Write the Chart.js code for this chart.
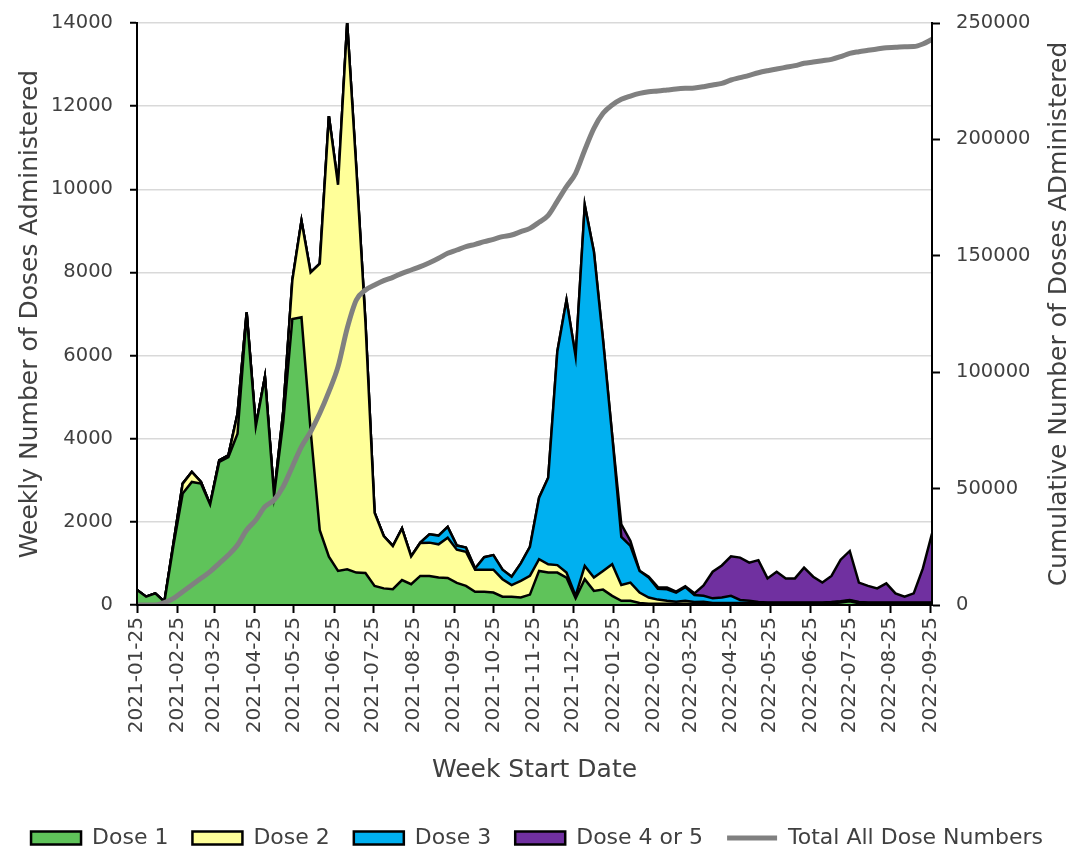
<!DOCTYPE html>
<html>
<head>
<meta charset="utf-8">
<title>Weekly Doses Administered</title>
<script src="https://cdn.jsdelivr.net/npm/chart.js@4.4.1/dist/chart.umd.min.js"></script>
<style>
    html, body { margin: 0; padding: 0; background: #fff; }
    #wrap { width: 1074px; height: 849px; position: relative; }
</style>
</head>
<body>
<div id="wrap"><canvas id="dosesChart"></canvas></div>
<script>
// Week start dates (x categories)
const weekStart = [
    '2021-01-25',
    '2021-02-01', '2021-02-08', '2021-02-15', '2021-02-22',
    '2021-03-01', '2021-03-08', '2021-03-15', '2021-03-22', '2021-03-29',
    '2021-04-05', '2021-04-12', '2021-04-19', '2021-04-26',
    '2021-05-03', '2021-05-10', '2021-05-17', '2021-05-24', '2021-05-31',
    '2021-06-07', '2021-06-14', '2021-06-21', '2021-06-28',
    '2021-07-05', '2021-07-12', '2021-07-19', '2021-07-26',
    '2021-08-02', '2021-08-09', '2021-08-16', '2021-08-23', '2021-08-30',
    '2021-09-06', '2021-09-13', '2021-09-20', '2021-09-27',
    '2021-10-04', '2021-10-11', '2021-10-18', '2021-10-25',
    '2021-11-01', '2021-11-08', '2021-11-15', '2021-11-22', '2021-11-29',
    '2021-12-06', '2021-12-13', '2021-12-20', '2021-12-27',
    '2022-01-03', '2022-01-10', '2022-01-17', '2022-01-24', '2022-01-31',
    '2022-02-07', '2022-02-14', '2022-02-21', '2022-02-28',
    '2022-03-07', '2022-03-14', '2022-03-21', '2022-03-28',
    '2022-04-04', '2022-04-11', '2022-04-18', '2022-04-25',
    '2022-05-02', '2022-05-09', '2022-05-16', '2022-05-23', '2022-05-30',
    '2022-06-06', '2022-06-13', '2022-06-20', '2022-06-27',
    '2022-07-04', '2022-07-11', '2022-07-18', '2022-07-25',
    '2022-08-01', '2022-08-08', '2022-08-15', '2022-08-22', '2022-08-29',
    '2022-09-05', '2022-09-12', '2022-09-19', '2022-09-26'
];

// Monthly tick labels on the date axis
const tickLabels = [
    '2021-01-25', '2021-02-25', '2021-03-25', '2021-04-25', '2021-05-25',
    '2021-06-25', '2021-07-25', '2021-08-25', '2021-09-25', '2021-10-25',
    '2021-11-25', '2021-12-25', '2022-01-25', '2022-02-25', '2022-03-25',
    '2022-04-25', '2022-05-25', '2022-06-25', '2022-07-25', '2022-08-25',
    '2022-09-25'
];

const dose1 = [
    360, 200, 280, 80, 1450, 2680, 2960, 2920, 2420, 3440,
    3560, 4120, 7000, 4300, 5480, 2640, 4400, 6880, 6920, 4200,
    1800, 1160, 820, 860, 780, 770, 460, 400, 380, 600,
    500, 700, 700, 660, 650, 530, 460, 320, 320, 300,
    200, 200, 180, 250, 820, 780, 780, 660, 160, 620,
    340, 370, 220, 100, 100, 50, 30, 30, 30, 30,
    30, 30, 30, 30, 30, 30, 30, 30, 30, 30,
    30, 30, 30, 30, 30, 30, 40, 60, 90, 40,
    30, 30, 30, 30, 30, 30, 30, 30
];

const dose2 = [
    0, 0, 0, 0, 50, 240, 240, 40, 0, 40,
    40, 480, 40, 0, 0, 0, 250, 930, 2320, 3800,
    6410, 10600, 9290, 13140, 9720, 6030, 1760, 1260, 1040, 1240,
    670, 790, 800, 800, 970, 800, 820, 530, 530, 550,
    420, 280, 400, 450, 280, 200, 180, 120, 60, 320,
    320, 450, 760, 380, 440, 250, 150, 100, 70, 50,
    70, 40, 50, 20, 20, 20, 20, 20, 20, 20,
    20, 20, 20, 20, 20, 20, 20, 20, 20, 20,
    20, 20, 20, 20, 20, 20, 20, 20
];

const dose3 = [
    0, 0, 0, 0, 0, 0, 0, 0, 0, 0,
    0, 0, 0, 0, 0, 0, 0, 0, 0, 0,
    0, 0, 0, 0, 0, 0, 0, 0, 0, 0,
    0, 10, 200, 210, 260, 100, 100, 30, 300, 350,
    230, 200, 420, 700, 1480, 2080, 5140, 6560, 5760, 8680,
    7840, 5550, 3100, 1160, 880, 520, 480, 260, 280, 220,
    330, 170, 140, 110, 130, 170, 70, 50, 20, 10,
    10, 10, 10, 10, 10, 10, 10, 10, 10, 10,
    10, 10, 10, 10, 10, 10, 10, 10
];

const dose4 = [
    0, 0, 0, 0, 0, 0, 0, 0, 0, 0,
    0, 0, 0, 0, 0, 0, 0, 0, 0, 0,
    0, 0, 0, 0, 0, 0, 0, 0, 0, 0,
    0, 0, 0, 0, 0, 0, 0, 0, 0, 0,
    0, 0, 0, 0, 0, 0, 0, 0, 0, 0,
    0, 0, 0, 300, 120, 0, 20, 40, 40, 20,
    20, 40, 250, 640, 770, 950, 1020, 920, 1010, 580,
    740, 580, 580, 840, 620, 480, 630, 1000, 1180, 470,
    400, 340, 460, 220, 140, 220, 820, 1660
];

// Cumulative total (right axis)
const totalDoses = [
    0, 0, 0, 1000, 2860, 5730, 8590, 11450, 14320, 17900,
    21480, 25770, 32200, 36500, 42230, 45100, 50830, 59420, 68000, 74450,
    82330, 91640, 102380, 118840, 131010, 135310, 137460, 139320, 140750, 142470,
    143900, 145330, 147050, 148920, 151070, 152490, 153920, 154930, 156070, 157080,
    158220, 158930, 160360, 161790, 164400, 167400, 173500, 179700, 185430, 195450,
    204750, 211200, 214780, 217210, 218640, 219790, 220500, 220790, 221220, 221650,
    221940, 222100, 222650, 223370, 224090, 225510, 226510, 227510, 228650, 229510,
    230240, 230960, 231680, 232680, 233250, 233820, 234390, 235540, 236970, 237680,
    238260, 238830, 239400, 239540, 239830, 239900, 240980, 242980
];

const textColor = '#404040';
const fontFamily = '"DejaVu Sans", sans-serif';
const rightTitle = 'Cumulative Number of Doses ADministered';

// days since the first week, used as x on a linear axis
function dayOf(s) {
    const base = Date.UTC(2021, 0, 25);
    const t = Date.UTC(+s.slice(0, 4), +s.slice(5, 7) - 1, +s.slice(8, 10));
    return Math.round((t - base) / 86400000);
}

const xDays = weekStart.map(dayOf);
const tickDays = tickLabels.map(dayOf);

function toPoints(values) {
    return values.map((v, i) => ({ x: xDays[i], y: v }));
}

function areaSet(label, values, color, fill) {
    return {
        label: label,
        data: toPoints(values),
        yAxisID: 'y',
        backgroundColor: color,
        borderColor: '#000',
        borderWidth: 2.5,
        pointRadius: 0,
        pointHoverRadius: 0,
        pointStyle: 'rect',
        tension: 0,
        fill: fill
    };
}

// fixed axis width; drop the vertical label padding so the plot top stays put
function fixWidth(width) {
    return scale => {
        scale.width = width;
        scale.paddingTop = 0;
        scale.paddingBottom = 0;
    };
}

// draws the right axis title reading bottom-to-top, like the left one
const rightTitlePlugin = {
    id: 'rightTitle',
    afterDraw(chart) {
        const s = chart.scales.y1;
        const ctx = chart.ctx;
        ctx.save();
        ctx.translate(s.right - 15, (chart.chartArea.top + chart.chartArea.bottom) / 2);
        ctx.rotate(-Math.PI / 2);
        ctx.textAlign = 'center';
        ctx.textBaseline = 'middle';
        ctx.font = '25px ' + fontFamily;
        ctx.fillStyle = textColor;
        ctx.fillText(rightTitle, 0, 0);
        ctx.restore();
    }
};

const legendHeightPlugin = {
    id: 'legendHeight',
    beforeInit(chart) {
        if (!chart.legend) return;
        const origFit = chart.legend.fit;
        chart.legend.fit = function () {
            origFit.call(this);
            this.height = 46;
        };
    }
};

Chart.defaults.font.family = fontFamily;
Chart.defaults.color = textColor;

const plainNumber = value => String(value);

const ctx = document.getElementById('dosesChart').getContext('2d');
new Chart(ctx, {
    type: 'line',
    data: {
        datasets: [
            areaSet('Dose 1', dose1, '#5fc35a', 'origin'),
            areaSet('Dose 2', dose2, '#ffff99', '-1'),
            areaSet('Dose 3', dose3, '#00b0f0', '-1'),
            areaSet('Dose 4 or 5', dose4, '#7030a0', '-1'),
            {
                label: 'Total All Dose Numbers',
                data: toPoints(totalDoses),
                yAxisID: 'y1',
                borderColor: '#808080',
                backgroundColor: '#808080',
                borderWidth: 5,
                pointRadius: 0,
                pointHoverRadius: 0,
                pointStyle: 'line',
                cubicInterpolationMode: 'monotone',
                fill: false,
                order: -1
            }
        ]
    },
    options: {
        responsive: true,
        maintainAspectRatio: false,
        animation: false,
        layout: { padding: { top: 23, left: 0, right: 0, bottom: 0 } },
        plugins: {
            tooltip: { enabled: false },
            legend: {
                position: 'bottom',
                labels: {
                    usePointStyle: true,
                    pointStyleWidth: 50,
                    boxHeight: 13,
                    padding: 24,
                    color: textColor,
                    font: { size: 22 },
                    sort: (a, b) => a.datasetIndex - b.datasetIndex
                }
            }
        },
        scales: {
            x: {
                type: 'linear',
                min: 0,
                max: xDays[xDays.length - 1],
                afterBuildTicks: scale => {
                    scale.ticks = tickDays.map(v => ({ value: v }));
                },
                afterFit: scale => { scale.height = 198; },
                ticks: {
                    autoSkip: false,
                    minRotation: 90,
                    maxRotation: 90,
                    padding: 4,
                    color: textColor,
                    font: { size: 20 },
                    callback: value => tickLabels[tickDays.indexOf(value)]
                },
                grid: {
                    drawOnChartArea: false,
                    drawTicks: true,
                    tickLength: 8,
                    tickWidth: 2,
                    tickColor: '#000'
                },
                border: { color: '#000', width: 2, z: 1 },
                title: {
                    display: true,
                    text: 'Week Start Date',
                    color: textColor,
                    font: { size: 25 },
                    padding: { top: 0, bottom: 18 }
                }
            },
            y: {
                position: 'left',
                stacked: true,
                min: 0,
                max: 14000,
                afterFit: fixWidth(137),
                ticks: {
                    stepSize: 2000,
                    padding: 17,
                    color: textColor,
                    font: { size: 19.5 },
                    callback: plainNumber
                },
                grid: {
                    color: '#d9d9d9',
                    lineWidth: 1.5,
                    tickLength: 7,
                    tickWidth: 2,
                    tickColor: '#000'
                },
                border: { color: '#000', width: 2, z: 1 },
                title: {
                    display: true,
                    text: 'Weekly Number of Doses Administered',
                    color: textColor,
                    font: { size: 25 },
                    padding: { top: 15, bottom: 0 }
                }
            },
            y1: {
                position: 'right',
                min: 0,
                max: 250000,
                afterFit: fixWidth(142),
                ticks: {
                    stepSize: 50000,
                    padding: 16,
                    color: textColor,
                    font: { size: 19.5 },
                    callback: plainNumber
                },
                grid: {
                    drawOnChartArea: false,
                    tickLength: 8,
                    tickWidth: 2,
                    tickColor: '#000'
                },
                border: { color: '#000', width: 2, z: 1 }
            }
        }
    },
    plugins: [rightTitlePlugin, legendHeightPlugin]
});
</script>
</body>
</html>
